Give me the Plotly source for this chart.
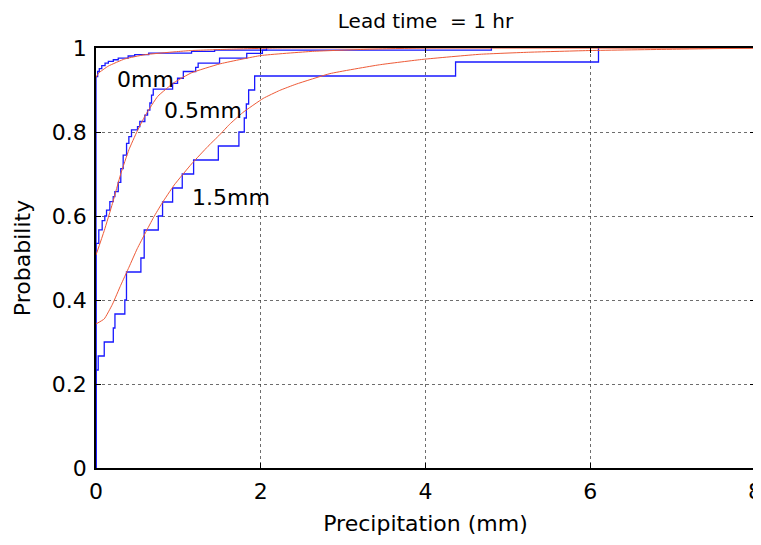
import plotly.graph_objects as go

# ---- data ----
# observed empirical CDFs (blue stairs): jump positions and levels
obs_0mm_x = [0, 0, 0.02, 0.04, 0.07, 0.11, 0.15, 0.21, 0.27, 0.39, 0.47, 0.64, 1.16, 1.44, 2.07]
obs_0mm_p = [0, 0.932, 0.944, 0.951, 0.958, 0.964, 0.968, 0.972, 0.976, 0.981, 0.984, 0.988, 0.992, 0.995, 1.0]

obs_05_x = [0, 0, 0.034, 0.075, 0.107, 0.128, 0.168, 0.209, 0.229, 0.27, 0.301, 0.33, 0.371,
            0.399, 0.431, 0.504, 0.532, 0.593, 0.626, 0.654, 0.674, 0.695, 0.93, 0.99, 1.06,
            1.21, 1.24, 1.50, 1.83, 2.02, 4.8]
obs_05_p = [0, 0.535, 0.567, 0.589, 0.6, 0.614, 0.634, 0.646, 0.658, 0.68, 0.713, 0.745, 0.773,
            0.789, 0.805, 0.813, 0.825, 0.84, 0.852, 0.869, 0.888, 0.902, 0.916, 0.928, 0.944,
            0.954, 0.964, 0.976, 0.987, 0.995, 1.0]

obs_15_x = [0, 0, 0.027, 0.1, 0.21, 0.23, 0.35, 0.37, 0.37, 0.545, 0.585, 0.585, 0.756, 0.808,
            0.93, 1.047, 1.185, 1.485, 1.735, 1.80, 1.825, 1.853, 1.926, 4.365, 6.10]
obs_15_p = [0, 7/30, 8/30, 9/30, 10/30, 11/30, 12/30, 13/30, 14/30, 15/30, 16/30, 17/30, 18/30,
            19/30, 20/30, 21/30, 22/30, 23/30, 24/30, 25/30, 26/30, 27/30, 28/30, 29/30, 30/30]

# forecast CDFs (red curves)
fc_0mm_x = [0, 0.03, 0.15, 0.35, 0.59, 0.96, 1.16, 1.6, 2.2, 8]
fc_0mm_p = [0.93, 0.94, 0.957, 0.974, 0.984, 0.991, 0.994, 0.997, 1.0, 1.0]

fc_05_x = [0, 0.1, 0.2, 0.3, 0.4, 0.5, 0.6, 0.75, 0.95, 1.16, 1.5, 2.0, 2.63, 3.3, 4.0, 8]
fc_05_p = [0.507, 0.565, 0.63, 0.7, 0.758, 0.802, 0.84, 0.885, 0.918, 0.941, 0.962, 0.982,
           0.992, 0.997, 1.0, 1.0]

fc_15_x = [0, 0.1, 0.2, 0.3, 0.4, 0.5, 0.6, 0.7, 0.8, 0.95, 1.16, 1.36, 1.5, 1.62, 1.78, 2.03,
           2.23, 2.43, 2.84, 3.44, 3.97, 4.66, 5.27, 6.0, 7.0, 8]
fc_15_p = [0.343, 0.355, 0.39, 0.435, 0.478, 0.522, 0.56, 0.597, 0.63, 0.674, 0.724, 0.766,
           0.793, 0.818, 0.846, 0.88, 0.899, 0.914, 0.939, 0.96, 0.973, 0.985, 0.99, 0.994, 0.997, 1.0]

labels = ["0mm", "0.5mm", "1.5mm"]
label_x = [0.225, 0.80, 1.135]
label_p = [0.924, 0.852, 0.644]

x_ticks = [0, 2, 4, 6, 8]
y_ticks = [0, 0.2, 0.4, 0.6, 0.8, 1]

BLUE = "rgb(25,25,255)"
RED = "rgb(238,90,55)"
FONT = "DejaVu Sans, sans-serif"

fig = go.Figure()
for xs, ps in [(obs_0mm_x, obs_0mm_p), (obs_05_x, obs_05_p), (obs_15_x, obs_15_p)]:
    fig.add_trace(go.Scatter(x=xs, y=ps, mode="lines", line=dict(color=BLUE, width=1.3, shape="hv"),
                             showlegend=False, hoverinfo="skip"))
for xs, ps in [(fc_0mm_x, fc_0mm_p), (fc_05_x, fc_05_p), (fc_15_x, fc_15_p)]:
    fig.add_trace(go.Scatter(x=xs, y=ps, mode="lines",
                             line=dict(color=RED, width=1, shape="spline", smoothing=0.4),
                             showlegend=False, hoverinfo="skip"))

for t, x, p in zip(labels, label_x, label_p):
    fig.add_annotation(x=x, y=p, text=t, showarrow=False, xanchor="left", yanchor="middle",
                       font=dict(family=FONT, size=22, color="black"))

axis_common = dict(showline=True, linecolor="black", linewidth=1.5, mirror="ticks",
                   ticks="inside", ticklen=5, tickcolor="black", tickwidth=1.2,
                   showgrid=True, gridcolor="rgba(60,60,60,0.75)", griddash="dot", gridwidth=1,
                   zeroline=False, automargin=False, ticklabeloverflow="allow",
                   tickfont=dict(family=FONT, size=22, color="black"))

fig.update_xaxes(range=[0, 8], tickvals=x_ticks, ticktext=[str(v) for v in x_ticks],
                 title=dict(text="Precipitation (mm)", font=dict(family=FONT, size=22, color="black"), standoff=12),
                 ticklabelstandoff=3, **axis_common)
fig.update_yaxes(range=[0, 1], tickvals=y_ticks, ticktext=["0", "0.2", "0.4", "0.6", "0.8", "1"],
                 title=dict(text="Probability", font=dict(family=FONT, size=22, color="black"), standoff=15),
                 ticklabelstandoff=3, **axis_common)

# the page body has an 8px default margin, so the figure is offset by (8, 8)
fig.update_layout(
    width=753, height=537,
    margin=dict(l=88, r=6, t=40, b=77),
    paper_bgcolor="white", plot_bgcolor="white",
    title=dict(text="Lead time  = 1 hr", x=0.5, xref="paper", xanchor="center", y=1 - 12.5 / 537,
               yanchor="middle", yref="container", font=dict(family=FONT, size=20, color="black")),
)

fig.write_html("out.html")
